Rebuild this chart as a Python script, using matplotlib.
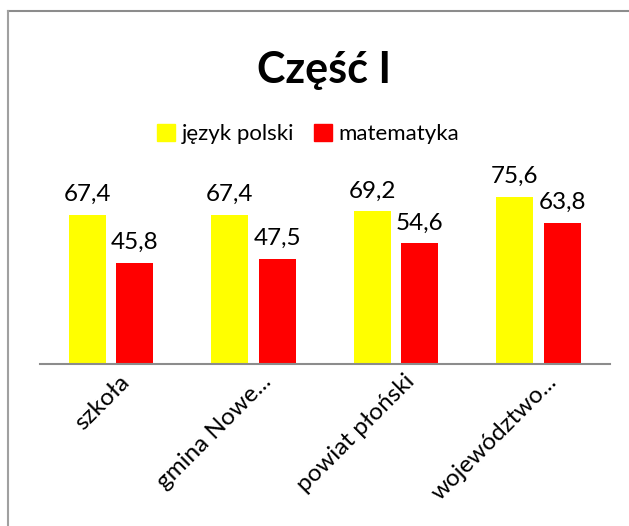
import matplotlib.pyplot as plt
from matplotlib.lines import Line2D
from matplotlib.patches import Patch
import numpy as np

plt.rcParams['font.family'] = ['Lato', 'DejaVu Sans']

# Dane
kategorie = ['szkoła', 'gmina Nowe...', 'powiat płoński', 'województwo...']
jezyk_polski = [67.4, 67.4, 69.2, 75.6]
matematyka = [45.8, 47.5, 54.6, 63.8]
etykiety = ['język polski', 'matematyka']
kolory = ['#FFFF00', '#FF0000']

W, H = 629, 526
fig = plt.figure(figsize=(W / 100, H / 100), dpi=100)

# ramka wykresu (widoczna tylko gora i lewa strona)
ramka_x = 8 / W
ramka_y = 1 - 11 / H
fig.add_artist(Line2D([ramka_x, 1], [ramka_y, ramka_y], color='#8c8c8c', lw=1.5))
fig.add_artist(Line2D([ramka_x, ramka_x], [0, ramka_y], color='#a0a0a0', lw=1.5))

# obszar wykresu
ax = fig.add_axes([40 / W, 1 - 364 / H, 570 / W, 221 / H])
x = np.arange(len(kategorie))
szer = 0.26
b1 = ax.bar(x - 0.17, jezyk_polski, szer, color=kolory[0], label=etykiety[0])
b2 = ax.bar(x + 0.165, matematyka, szer, color=kolory[1], label=etykiety[1])
ax.set_xlim(-0.5, len(kategorie) - 0.5)
ax.set_ylim(0, 100)

for bars in (b1, b2):
    for b in bars:
        ax.annotate(str(b.get_height()).replace('.', ','),
                    (b.get_x() + b.get_width() / 2, b.get_height()),
                    xytext=(0, 7), textcoords='offset points',
                    ha='center', va='bottom', fontsize=17.5)

for s in ['top', 'right', 'left']:
    ax.spines[s].set_visible(False)
ax.spines['bottom'].set_color('#8c8c8c')
ax.spines['bottom'].set_linewidth(1.5)
ax.set_yticks([])
ax.set_xticks(x + 0.05)
ax.set_xticklabels(kategorie, rotation=45, ha='right', rotation_mode='anchor', fontsize=17.5)
ax.tick_params(axis='x', length=0, pad=5)
ax.patch.set_alpha(0)

fig.text(324 / W, 1 - 70 / H, 'Część I', ha='center', va='center',
         fontsize=31, fontweight='bold')

uchwyty = [Patch(color=kolory[0]), Patch(color=kolory[1])]
fig.legend(uchwyty, etykiety, loc='center', bbox_to_anchor=(308 / W, 1 - 134 / H),
           ncol=2, frameon=False, fontsize=16, handlelength=0.8, handleheight=0.8,
           handletextpad=0.3, columnspacing=0.9)

fig.savefig('out.png', dpi=100)
